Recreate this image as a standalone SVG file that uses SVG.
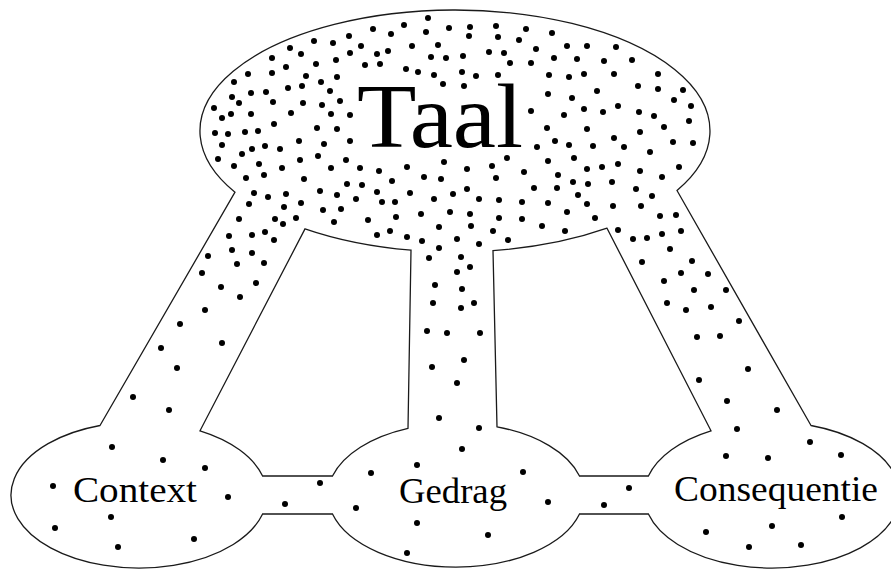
<svg xmlns="http://www.w3.org/2000/svg" width="891" height="570" viewBox="0 0 891 570">
<style>
.outline{fill:none;stroke:#1a1a1a;stroke-width:1.3;stroke-linejoin:miter}
.dots circle{fill:#000}
.lbl{font-family:"Liberation Serif","Times New Roman",serif;fill:#000}
.big{font-size:91px}
.small{font-size:35px}
</style>
<rect width="891" height="570" fill="#fff"/>
<g id="connectors">
<path class="outline" d="M 235 192.2 A 255 121 0 1 1 677 190.5 L 811 425.5 A 128 73 0 1 1 648.4 514 L 579.5 514 A 128 72 0 0 1 332.5 514 L 262.6 514 A 128 73 0 1 1 100 425.5 Z"/>
<path class="outline" d="M 305 228.9 L 200 430.8 A 128 73 0 0 1 262.6 476 L 332.5 476 A 128 72 0 0 1 408 428.3 L 411 250.2 A 255 121 0 0 1 305 228.9 Z"/>
<path class="outline" d="M 607 228.2 L 711 430.8 A 128 73 0 0 0 648.4 476 L 579.5 476 A 128 72 0 0 0 497 426.8 L 493 250.6 A 255 121 0 0 0 607 228.2 Z"/>
</g>
<g class="dots" id="dots">
<circle cx="428" cy="18" r="3"/><circle cx="449" cy="28" r="3"/><circle cx="404" cy="25" r="3"/><circle cx="373" cy="29" r="3"/><circle cx="391" cy="34" r="3"/><circle cx="426" cy="32" r="3"/><circle cx="349" cy="36" r="3"/><circle cx="333" cy="43" r="3"/><circle cx="314" cy="41" r="3"/><circle cx="361" cy="46" r="3"/><circle cx="290" cy="48" r="3"/><circle cx="301" cy="54" r="3"/><circle cx="350" cy="53" r="3"/><circle cx="377" cy="54" r="3"/><circle cx="388" cy="51" r="3"/><circle cx="412" cy="46" r="3"/><circle cx="438" cy="45" r="3"/><circle cx="431" cy="57" r="3"/><circle cx="446" cy="58" r="3"/><circle cx="272" cy="58" r="3"/><circle cx="286" cy="67" r="3"/><circle cx="316" cy="64" r="3"/><circle cx="336" cy="60" r="3"/><circle cx="365" cy="65" r="3"/><circle cx="380" cy="64" r="3"/><circle cx="406" cy="69" r="3"/><circle cx="418" cy="72" r="3"/><circle cx="434" cy="75" r="3"/><circle cx="443" cy="84" r="3"/><circle cx="248" cy="74" r="3"/><circle cx="272" cy="73" r="3"/><circle cx="234" cy="82" r="3"/><circle cx="306" cy="76" r="3"/><circle cx="337" cy="77" r="3"/><circle cx="302" cy="86" r="3"/><circle cx="321" cy="82" r="3"/><circle cx="288" cy="88" r="3"/><circle cx="330" cy="91" r="3"/><circle cx="232" cy="97" r="3"/><circle cx="251" cy="93" r="3"/><circle cx="266" cy="92" r="3"/><circle cx="239" cy="103" r="3"/><circle cx="273" cy="102" r="3"/><circle cx="303" cy="103" r="3"/><circle cx="322" cy="105" r="3"/><circle cx="340" cy="101" r="3"/><circle cx="214" cy="108" r="3"/><circle cx="231" cy="114" r="3"/><circle cx="222" cy="118" r="3"/><circle cx="251" cy="114" r="3"/><circle cx="291" cy="113" r="3"/><circle cx="331" cy="114" r="3"/><circle cx="350" cy="115" r="3"/><circle cx="274" cy="124" r="3"/><circle cx="317" cy="128" r="3"/><circle cx="337" cy="129" r="3"/>
<circle cx="470" cy="27" r="3"/><circle cx="469" cy="36" r="3"/><circle cx="496" cy="26" r="3"/><circle cx="498" cy="37" r="3"/><circle cx="526" cy="29" r="3"/><circle cx="519" cy="40" r="3"/><circle cx="552" cy="33" r="3"/><circle cx="463" cy="56" r="3"/><circle cx="489" cy="52" r="3"/><circle cx="504" cy="53" r="3"/><circle cx="510" cy="63" r="3"/><circle cx="531" cy="63" r="3"/><circle cx="536" cy="49" r="3"/><circle cx="554" cy="58" r="3"/><circle cx="567" cy="46" r="3"/><circle cx="587" cy="46" r="3"/><circle cx="616" cy="47" r="3"/><circle cx="577" cy="59" r="3"/><circle cx="604" cy="61" r="3"/><circle cx="632" cy="60" r="3"/><circle cx="462" cy="72" r="3"/><circle cx="476" cy="76" r="3"/><circle cx="498" cy="75" r="3"/><circle cx="549" cy="75" r="3"/><circle cx="569" cy="77" r="3"/><circle cx="584" cy="74" r="3"/><circle cx="614" cy="74" r="3"/><circle cx="658" cy="74" r="3"/><circle cx="464" cy="86" r="3"/><circle cx="548" cy="94" r="3"/><circle cx="572" cy="98" r="3"/><circle cx="597" cy="91" r="3"/><circle cx="638" cy="86" r="3"/><circle cx="658" cy="89" r="3"/><circle cx="683" cy="90" r="3"/><circle cx="674" cy="100" r="3"/><circle cx="691" cy="106" r="3"/><circle cx="618" cy="106" r="3"/><circle cx="584" cy="109" r="3"/><circle cx="603" cy="112" r="3"/><circle cx="639" cy="112" r="3"/><circle cx="654" cy="116" r="3"/><circle cx="531" cy="111" r="3"/><circle cx="564" cy="115" r="3"/><circle cx="689" cy="121" r="3"/><circle cx="664" cy="127" r="3"/><circle cx="547" cy="128" r="3"/><circle cx="587" cy="129" r="3"/>
<circle cx="215" cy="133" r="3"/><circle cx="228" cy="134" r="3"/><circle cx="245" cy="132" r="3"/><circle cx="258" cy="131" r="3"/><circle cx="222" cy="145" r="3"/><circle cx="242" cy="154" r="3"/><circle cx="252" cy="149" r="3"/><circle cx="265" cy="146" r="3"/><circle cx="280" cy="149" r="3"/><circle cx="299" cy="141" r="3"/><circle cx="324" cy="144" r="3"/><circle cx="350" cy="141" r="3"/><circle cx="218" cy="159" r="3"/><circle cx="234" cy="166" r="3"/><circle cx="259" cy="164" r="3"/><circle cx="282" cy="168" r="3"/><circle cx="300" cy="160" r="3"/><circle cx="318" cy="156" r="3"/><circle cx="346" cy="160" r="3"/><circle cx="331" cy="168" r="3"/><circle cx="360" cy="168" r="3"/><circle cx="379" cy="171" r="3"/><circle cx="407" cy="167" r="3"/><circle cx="444" cy="162" r="3"/><circle cx="246" cy="178" r="3"/><circle cx="264" cy="175" r="3"/><circle cx="304" cy="179" r="3"/><circle cx="392" cy="181" r="3"/><circle cx="424" cy="177" r="3"/><circle cx="441" cy="179" r="3"/><circle cx="347" cy="184" r="3"/><circle cx="362" cy="185" r="3"/><circle cx="254" cy="193" r="3"/><circle cx="268" cy="197" r="3"/><circle cx="286" cy="194" r="3"/><circle cx="320" cy="191" r="3"/><circle cx="337" cy="195" r="3"/><circle cx="356" cy="199" r="3"/><circle cx="377" cy="192" r="3"/><circle cx="410" cy="193" r="3"/><circle cx="453" cy="194" r="3"/><circle cx="249" cy="204" r="3"/><circle cx="284" cy="207" r="3"/><circle cx="301" cy="203" r="3"/><circle cx="323" cy="210" r="3"/><circle cx="341" cy="209" r="3"/><circle cx="382" cy="202" r="3"/><circle cx="395" cy="202" r="3"/><circle cx="434" cy="199" r="3"/><circle cx="239" cy="219" r="3"/><circle cx="275" cy="219" r="3"/><circle cx="283" cy="224" r="3"/><circle cx="296" cy="218" r="3"/><circle cx="334" cy="222" r="3"/><circle cx="368" cy="220" r="3"/><circle cx="396" cy="217" r="3"/><circle cx="421" cy="214" r="3"/><circle cx="450" cy="212" r="3"/><circle cx="229" cy="236" r="3"/><circle cx="252" cy="235" r="3"/><circle cx="265" cy="232" r="3"/><circle cx="274" cy="240" r="3"/><circle cx="377" cy="235" r="3"/><circle cx="390" cy="231" r="3"/><circle cx="407" cy="237" r="3"/><circle cx="422" cy="241" r="3"/><circle cx="439" cy="227" r="3"/><circle cx="439" cy="248" r="3"/><circle cx="232" cy="250" r="3"/>
<circle cx="640" cy="132" r="3"/><circle cx="555" cy="141" r="3"/><circle cx="569" cy="145" r="3"/><circle cx="593" cy="146" r="3"/><circle cx="614" cy="138" r="3"/><circle cx="624" cy="147" r="3"/><circle cx="537" cy="147" r="3"/><circle cx="650" cy="152" r="3"/><circle cx="673" cy="142" r="3"/><circle cx="693" cy="143" r="3"/><circle cx="507" cy="158" r="3"/><circle cx="548" cy="161" r="3"/><circle cx="574" cy="158" r="3"/><circle cx="467" cy="169" r="3"/><circle cx="492" cy="166" r="3"/><circle cx="496" cy="178" r="3"/><circle cx="524" cy="172" r="3"/><circle cx="558" cy="175" r="3"/><circle cx="587" cy="169" r="3"/><circle cx="602" cy="167" r="3"/><circle cx="618" cy="164" r="3"/><circle cx="640" cy="171" r="3"/><circle cx="662" cy="177" r="3"/><circle cx="679" cy="167" r="3"/><circle cx="467" cy="189" r="3"/><circle cx="479" cy="199" r="3"/><circle cx="499" cy="200" r="3"/><circle cx="522" cy="202" r="3"/><circle cx="534" cy="188" r="3"/><circle cx="557" cy="188" r="3"/><circle cx="573" cy="182" r="3"/><circle cx="588" cy="184" r="3"/><circle cx="578" cy="195" r="3"/><circle cx="612" cy="182" r="3"/><circle cx="636" cy="189" r="3"/><circle cx="652" cy="196" r="3"/><circle cx="548" cy="203" r="3"/><circle cx="587" cy="204" r="3"/><circle cx="613" cy="206" r="3"/><circle cx="641" cy="206" r="3"/><circle cx="470" cy="214" r="3"/><circle cx="499" cy="218" r="3"/><circle cx="522" cy="219" r="3"/><circle cx="567" cy="212" r="3"/><circle cx="595" cy="218" r="3"/><circle cx="660" cy="216" r="3"/><circle cx="676" cy="215" r="3"/><circle cx="471" cy="226" r="3"/><circle cx="493" cy="231" r="3"/><circle cx="542" cy="226" r="3"/><circle cx="565" cy="231" r="3"/><circle cx="618" cy="230" r="3"/><circle cx="662" cy="234" r="3"/><circle cx="681" cy="231" r="3"/><circle cx="457" cy="239" r="3"/><circle cx="479" cy="244" r="3"/><circle cx="508" cy="240" r="3"/><circle cx="633" cy="239" r="3"/><circle cx="647" cy="238" r="3"/><circle cx="670" cy="249" r="3"/>
<circle cx="252" cy="253" r="3"/><circle cx="208" cy="256" r="3"/><circle cx="237" cy="264" r="3"/><circle cx="264" cy="263" r="3"/><circle cx="202" cy="273" r="3"/><circle cx="221" cy="287" r="3"/><circle cx="256" cy="283" r="3"/><circle cx="240" cy="297" r="3"/><circle cx="205" cy="310" r="3"/><circle cx="180" cy="324" r="3"/><circle cx="222" cy="343" r="3"/><circle cx="161" cy="348" r="3"/><circle cx="177" cy="368" r="3"/><circle cx="133" cy="397" r="3"/><circle cx="169" cy="410" r="3"/>
<circle cx="429" cy="258" r="3"/><circle cx="435" cy="285" r="3"/><circle cx="433" cy="303" r="3"/><circle cx="427" cy="331" r="3"/><circle cx="447" cy="333" r="3"/><circle cx="432" cy="367" r="3"/><circle cx="439" cy="418" r="3"/><circle cx="461" cy="257" r="3"/><circle cx="470" cy="267" r="3"/><circle cx="457" cy="272" r="3"/><circle cx="462" cy="289" r="3"/><circle cx="461" cy="308" r="3"/><circle cx="474" cy="303" r="3"/><circle cx="480" cy="333" r="3"/><circle cx="464" cy="360" r="3"/><circle cx="457" cy="383" r="3"/><circle cx="479" cy="428" r="3"/>
<circle cx="112" cy="447" r="3"/><circle cx="163" cy="460" r="3"/><circle cx="205" cy="468" r="3"/><circle cx="53" cy="486" r="3"/><circle cx="228" cy="497" r="3"/><circle cx="111" cy="517" r="3"/><circle cx="55" cy="528" r="3"/><circle cx="118" cy="547" r="3"/><circle cx="194" cy="539" r="3"/>
<circle cx="285" cy="504" r="3"/><circle cx="320" cy="483" r="3"/><circle cx="629" cy="488" r="3"/><circle cx="604" cy="505" r="3"/>
<circle cx="371" cy="473" r="3"/><circle cx="417" cy="465" r="3"/><circle cx="356" cy="508" r="3"/><circle cx="417" cy="523" r="3"/><circle cx="407" cy="553" r="3"/><circle cx="462" cy="449" r="3"/><circle cx="523" cy="472" r="3"/><circle cx="548" cy="502" r="3"/><circle cx="488" cy="535" r="3"/>
<circle cx="642" cy="262" r="3"/><circle cx="692" cy="261" r="3"/><circle cx="681" cy="273" r="3"/><circle cx="708" cy="274" r="3"/><circle cx="664" cy="281" r="3"/><circle cx="694" cy="290" r="3"/><circle cx="726" cy="290" r="3"/><circle cx="667" cy="303" r="3"/><circle cx="686" cy="310" r="3"/><circle cx="711" cy="307" r="3"/><circle cx="739" cy="321" r="3"/><circle cx="697" cy="337" r="3"/><circle cx="720" cy="336" r="3"/><circle cx="748" cy="369" r="3"/><circle cx="699" cy="380" r="3"/><circle cx="727" cy="401" r="3"/><circle cx="777" cy="410" r="3"/><circle cx="737" cy="429" r="3"/>
<circle cx="810" cy="442" r="3"/><circle cx="726" cy="456" r="3"/><circle cx="768" cy="458" r="3"/><circle cx="841" cy="455" r="3"/><circle cx="706" cy="532" r="3"/><circle cx="772" cy="526" r="3"/><circle cx="749" cy="547" r="3"/><circle cx="801" cy="545" r="3"/><circle cx="842" cy="517" r="3"/>
</g>
<g id="node-taal"><text class="lbl big" x="357" y="147" textLength="166" lengthAdjust="spacingAndGlyphs">Taal</text></g>
<g id="node-context"><text class="lbl small" x="73" y="502" textLength="124" lengthAdjust="spacingAndGlyphs">Context</text></g>
<g id="node-gedrag"><text class="lbl small" x="399" y="503" textLength="108" lengthAdjust="spacingAndGlyphs">Gedrag</text></g>
<g id="node-consequentie"><text class="lbl small" x="674" y="501" textLength="204" lengthAdjust="spacingAndGlyphs">Consequentie</text></g>
</svg>
